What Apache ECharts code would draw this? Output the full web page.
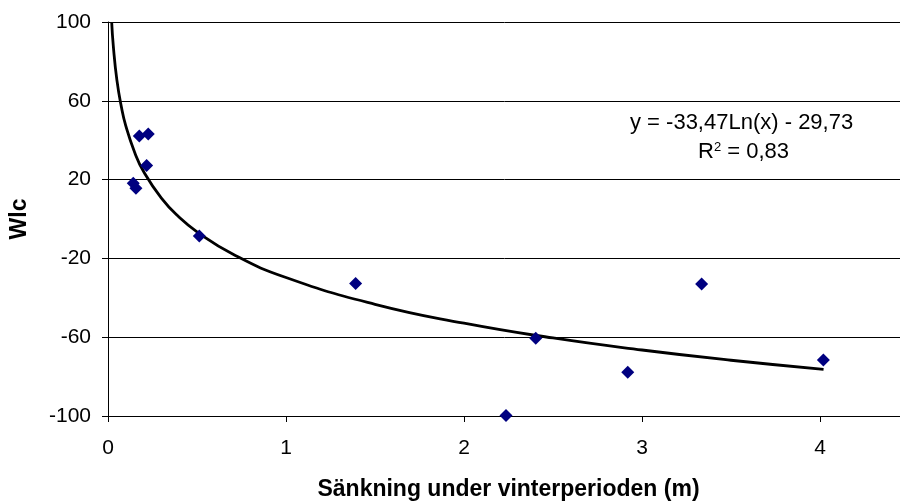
<!DOCTYPE html>
<html>
<head>
<meta charset="utf-8">
<script src="https://cdn.jsdelivr.net/npm/echarts@6/dist/echarts.min.js"></script>
<style>html,body{margin:0;padding:0;background:#fff}#c{width:900px;height:503px}</style>
</head>
<body>
<div id="c"></div>
<script>
// Measured points (Sänkning m, Wlc)
const sankning = [0.142, 0.157, 0.176, 0.217, 0.226, 0.513, 1.391, 2.236, 2.403, 2.92, 3.335, 4.019];
const wlc      = [18.1, 15.6, 42.1, 27.1, 43.1, -8.6, -32.8, -99.8, -60.5, -77.8, -33.0, -71.6];
// Trend line
const trendX = [0.0207, 0.03, 0.05, 0.075, 0.1, 0.15, 0.2, 0.3, 0.4, 0.5, 0.7, 1.0, 1.5, 2.0, 2.5, 3.0, 3.5, 4.02];
const trendY = [100, 87.6, 70.5, 57.0, 47.3, 33.8, 24.1, 10.6, 0.9, -6.5, -17.8, -29.7, -43.3, -52.9, -60.4, -66.5, -71.7, -76.3];
const xTicks = [0, 1, 2, 3, 4];
const yTicks = [-100, -60, -20, 20, 60, 100];
const xTitle = 'Sänkning under vinterperioden (m)';
const yTitle = 'Wlc';
const eqLine1 = 'y = -33,47Ln(x) - 29,73';

const FONT = '"Liberation Sans", Arial, sans-serif';
const chart = echarts.init(document.getElementById('c'), null, {renderer: 'canvas'});
chart.setOption({
  animation: false,
  backgroundColor: '#fff',
  grid: {left: 108, top: 22, bottom: 87, right: -9, containLabel: false, outerBoundsMode: 'none'},
  xAxis: {
    type: 'value', min: 0, max: 4.5,
    name: xTitle, nameLocation: 'middle', nameGap: 62,
    nameTextStyle: {fontFamily: FONT, fontSize: 23, fontWeight: 'bold', color: '#000'},
    axisLine: {show: true, onZero: false, lineStyle: {color: '#000', width: 1}},
    axisTick: {show: true, length: 6, customValues: xTicks, lineStyle: {color: '#000'}},
    axisLabel: {customValues: xTicks, fontFamily: FONT, fontSize: 21, color: '#000', margin: 22},
    splitLine: {show: false}
  },
  yAxis: {
    type: 'value', min: -100, max: 100,
    name: yTitle, nameLocation: 'middle', nameGap: 77, nameRotate: 90,
    nameTextStyle: {fontFamily: FONT, fontSize: 23, fontWeight: 'bold', color: '#000'},
    axisLine: {show: true, onZero: false, lineStyle: {color: '#000', width: 1}},
    axisTick: {show: true, length: 6, customValues: yTicks, lineStyle: {color: '#000'}},
    axisLabel: {customValues: yTicks, fontFamily: FONT, fontSize: 21, color: '#000', margin: 17},
    splitLine: {show: true, lineStyle: {color: '#000', width: 1}}
  },
  series: [
    {
      type: 'line', data: trendX.map((x, i) => [x, trendY[i]]),
      smooth: true, showSymbol: false, symbol: 'none',
      lineStyle: {color: '#000', width: 2.8}, z: 2, silent: true
    },
    {
      type: 'scatter', data: sankning.map((x, i) => [x, wlc[i]]),
      symbol: 'diamond', symbolSize: [13, 13],
      itemStyle: {color: '#000080', opacity: 1}, z: 3
    }
  ],
  graphic: [
    {type: 'text', left: 630, top: 112, style: {text: eqLine1, font: '22px ' + FONT, fill: '#000'}},
    {type: 'text', left: 698, top: 141, style: {
      text: 'R{sup|2} = 0,83', font: '22px ' + FONT, fill: '#000',
      rich: {sup: {fontSize: 13, fontFamily: FONT, verticalAlign: 'top', padding: [0, 0, 8, 0]}}
    }}
  ]
});
</script>
</body>
</html>
